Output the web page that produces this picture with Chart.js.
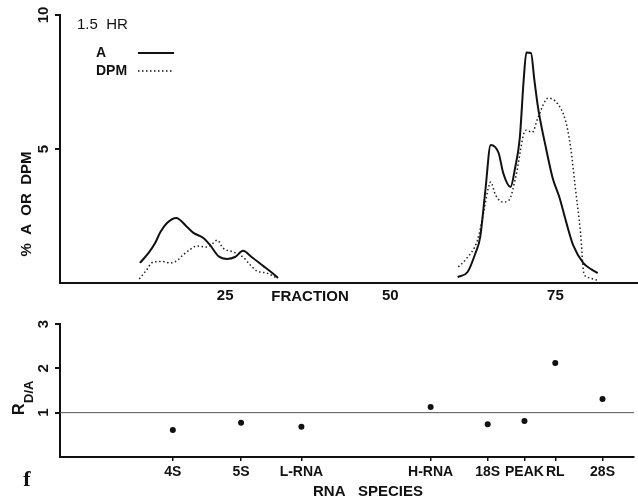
<!DOCTYPE html>
<html>
<head>
<meta charset="utf-8">
<script src="https://cdn.jsdelivr.net/npm/chart.js@4.4.1/dist/chart.umd.min.js"></script>
<style>
  html, body { margin: 0; padding: 0; background: #fff; }
  #wrap { position: relative; width: 638px; height: 501px; background: #fff; }
  canvas { position: absolute; left: 0; }
  #top { top: 0; }
  #bottom { top: 300px; }
</style>
</head>
<body>
<div id="wrap">
  <canvas id="bottom" width="638" height="201"></canvas>
  <canvas id="top" width="638" height="310"></canvas>
</div>
<script>
// ---------- DATA ----------
// Top panel: % A (solid) and % DPM (dotted) vs fraction number
const aLeftFrac  = [12.1, 13.5, 14.4, 15.2, 16.2, 17.6, 19.2, 20.2, 21.7, 22.7, 24.0, 25.3, 26.5, 27.7, 29.0, 30.8, 32.0, 33.0];
const aLeftVal   = [0.75, 1.15, 1.49, 1.9, 2.24, 2.43, 2.1, 1.87, 1.68, 1.42, 1.0, 0.9, 0.97, 1.2, 0.97, 0.63, 0.4, 0.19];
const aRightFrac = [60.2, 61.7, 62.9, 63.6, 64.4, 65.2, 66.4, 67.1, 68.2, 68.9, 69.6, 70.2, 70.6, 71.3, 71.8, 72.4, 73.6, 74.6, 75.6, 76.6, 77.7, 79.2, 80.5, 81.4];
const aRightVal  = [0.22, 0.41, 1.12, 1.7, 3.47, 5.15, 4.85, 4.1, 3.58, 4.3, 5.4, 7.6, 8.6, 8.58, 7.6, 6.5, 5.0, 3.9, 3.2, 2.3, 1.4, 0.75, 0.5, 0.37];
const dLeftFrac  = [12.0, 13.0, 14.1, 15.5, 16.7, 17.8, 18.6, 19.7, 20.7, 22.2, 23.0, 23.8, 24.7, 26.2, 27.7, 28.7, 29.8, 31.3, 32.9];
const dLeftVal   = [0.15, 0.45, 0.78, 0.8, 0.75, 0.85, 1.04, 1.25, 1.38, 1.34, 1.45, 1.6, 1.3, 1.16, 0.97, 0.7, 0.45, 0.37, 0.18];
const dRightFrac = [60.3, 61.5, 63.2, 64.1, 64.8, 65.2, 65.9, 67.0, 68.0, 69.0, 70.5, 71.5, 72.4, 73.9, 75.3, 76.5, 77.3, 78.0, 78.8, 79.3, 80.0, 81.4];
const dRightVal  = [0.6, 0.9, 1.6, 2.6, 3.5, 3.77, 3.3, 3.02, 3.1, 3.96, 5.7, 5.63, 6.2, 6.9, 6.7, 6.08, 5.07, 3.58, 1.87, 0.37, 0.2, 0.1];
const fractionTicks = [25, 50, 75];
const percentTicks = [10, 5];

// Bottom panel: R D/A per RNA species, placed at its fraction number
const species         = ['4S', '5S', 'L-RNA', 'H-RNA', '18S', 'PEAK', 'RL', '28S'];
const speciesFraction = [17.2, 27.6, 36.8, 56.5, 65.2, 70.8, 75.5, 82.7];
const ratioDA         = [0.61, 0.77, 0.68, 1.13, 0.74, 0.81, 2.12, 1.31];
const ratioTicks = [3, 2, 1];
const referenceRatio = 1;

// ---------- helpers ----------
const pts = (xs, ys) => xs.map((x, i) => ({ x: x, y: ys[i] }));
const gap = { x: 46, y: null };
const INK = '#111';
const FONT = '"Liberation Sans", Arial, sans-serif';
const X_MAX = 87.5;

function rotText(ctx, txt, x, y, font) {
  ctx.save();
  ctx.translate(x, y);
  ctx.rotate(-Math.PI / 2);
  ctx.font = font;
  ctx.textAlign = 'center';
  ctx.textBaseline = 'middle';
  ctx.fillText(txt, 0, 0);
  ctx.restore();
}

// ---------- top chart ----------
const topText = {
  id: 'topText',
  afterDraw(chart) {
    const ctx = chart.ctx, y = chart.scales.y;
    ctx.save();
    ctx.fillStyle = INK;
    percentTicks.forEach(v => rotText(ctx, String(v), 44, y.getPixelForValue(v), 'bold 15px ' + FONT));
    rotText(ctx, '%  A  OR  DPM', 27, 204, 'bold 15px ' + FONT);
    ctx.font = 'bold 15px ' + FONT;
    ctx.textAlign = 'center';
    ctx.textBaseline = 'middle';
    ctx.fillText('FRACTION', 310, 297);
    // legend
    ctx.textAlign = 'left';
    ctx.font = '15px ' + FONT;
    ctx.fillText('1.5  HR', 77, 25);
    ctx.font = 'bold 14px ' + FONT;
    ctx.fillText('A', 96, 53);
    ctx.fillText('DPM', 96, 71);
    ctx.strokeStyle = INK;
    ctx.lineWidth = 2;
    ctx.beginPath(); ctx.moveTo(138, 53); ctx.lineTo(174, 53); ctx.stroke();
    ctx.lineWidth = 1.5;
    ctx.setLineDash([1.5, 2.5]);
    ctx.beginPath(); ctx.moveTo(138, 71); ctx.lineTo(174, 71); ctx.stroke();
    ctx.restore();
  }
};

new Chart(document.getElementById('top'), {
  type: 'line',
  data: {
    datasets: [
      { label: 'A', data: [...pts(aLeftFrac, aLeftVal), gap, ...pts(aRightFrac, aRightVal)],
        borderColor: INK, borderWidth: 2, pointRadius: 0, cubicInterpolationMode: 'monotone', spanGaps: false, fill: false },
      { label: 'DPM', data: [...pts(dLeftFrac, dLeftVal), gap, ...pts(dRightFrac, dRightVal)],
        borderColor: '#222', borderWidth: 1.5, borderDash: [1.5, 2.5], pointRadius: 0, cubicInterpolationMode: 'monotone', spanGaps: false, fill: false }
    ]
  },
  options: {
    responsive: false, animation: false, devicePixelRatio: 1,
    layout: { padding: { top: 15, right: 0, left: 0, bottom: 0 } },
    plugins: { legend: { display: false }, tooltip: { enabled: false } },
    scales: {
      x: {
        type: 'linear', min: 0, max: X_MAX,
        afterBuildTicks: s => { s.ticks = fractionTicks.map(v => ({ value: v })); },
        ticks: { color: INK, font: { family: FONT, size: 15, weight: 'bold' }, padding: 4, maxRotation: 0, autoSkip: false, callback: v => String(v) },
        grid: { display: false, drawTicks: false },
        border: { display: true, color: INK, width: 2 },
        afterFit: s => { s.height = 27; }
      },
      y: {
        type: 'linear', min: 0, max: 10,
        afterBuildTicks: s => { s.ticks = percentTicks.map(v => ({ value: v })); },
        ticks: { display: false },
        grid: { drawOnChartArea: false, drawTicks: true, tickLength: 5, color: INK, lineWidth: 2 },
        border: { display: true, color: INK, width: 2 },
        afterFit: s => { s.width = 60; }
      }
    }
  },
  plugins: [topText]
});

// ---------- bottom chart ----------
const bottomText = {
  id: 'bottomText',
  afterDraw(chart) {
    const ctx = chart.ctx, y = chart.scales.y;
    ctx.save();
    ctx.fillStyle = INK;
    ratioTicks.forEach(v => rotText(ctx, String(v), 44, y.getPixelForValue(v), 'bold 15px ' + FONT));
    // R with subscript D/A, rotated
    ctx.save();
    ctx.translate(23, 87);
    ctx.rotate(-Math.PI / 2);
    ctx.textBaseline = 'alphabetic';
    ctx.textAlign = 'left';
    ctx.font = 'bold 16px ' + FONT;
    ctx.fillText('R', -28, 1);
    ctx.font = 'bold 13px ' + FONT;
    ctx.fillText('D/A', -16, 10);
    ctx.restore();
    ctx.font = 'bold 15px ' + FONT;
    ctx.textAlign = 'center';
    ctx.textBaseline = 'middle';
    ctx.fillText('RNA   SPECIES', 368, 192);
    ctx.font = 'bold 22px "Liberation Serif", "Times New Roman", serif';
    ctx.fillText('f', 27, 180);
    ctx.restore();
  }
};

new Chart(document.getElementById('bottom'), {
  type: 'scatter',
  data: {
    datasets: [
      { label: 'R D/A', data: pts(speciesFraction, ratioDA), pointRadius: 3, pointBackgroundColor: INK, pointBorderColor: INK, pointBorderWidth: 0, showLine: false },
      { label: 'ref', data: [{ x: 0, y: referenceRatio }, { x: X_MAX, y: referenceRatio }], type: 'line',
        borderColor: '#555', borderWidth: 1, pointRadius: 0, fill: false }
    ]
  },
  options: {
    responsive: false, animation: false, devicePixelRatio: 1,
    layout: { padding: { top: 24, right: 0, left: 0, bottom: 0 } },
    plugins: { legend: { display: false }, tooltip: { enabled: false } },
    scales: {
      x: {
        type: 'linear', min: 0, max: X_MAX,
        afterBuildTicks: s => { s.ticks = speciesFraction.map(v => ({ value: v })); },
        ticks: { color: INK, font: { family: FONT, size: 14, weight: 'bold' }, padding: 3, maxRotation: 0, autoSkip: false,
                 callback: (v, i) => species[i] },
        grid: { drawOnChartArea: false, drawTicks: true, tickLength: 4, color: INK, lineWidth: 1.5 },
        border: { display: true, color: INK, width: 2 },
        afterFit: s => { s.height = 44; }
      },
      y: {
        type: 'linear', min: 0, max: 3,
        afterBuildTicks: s => { s.ticks = ratioTicks.map(v => ({ value: v })); },
        ticks: { display: false },
        grid: { drawOnChartArea: false, drawTicks: true, tickLength: 5, color: INK, lineWidth: 2 },
        border: { display: true, color: INK, width: 2 },
        afterFit: s => { s.width = 60; }
      }
    }
  },
  plugins: [bottomText]
});
</script>
</body>
</html>
